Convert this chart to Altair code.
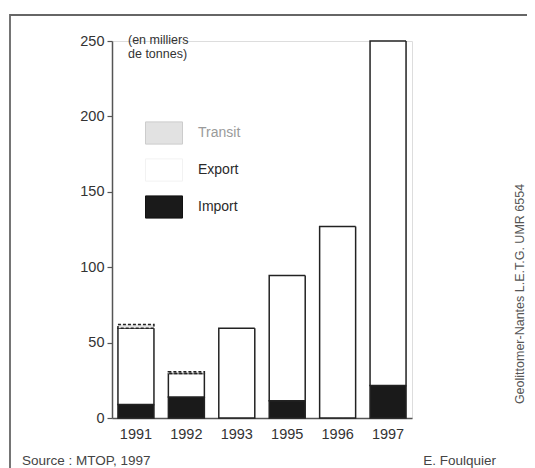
import altair as alt
import pandas as pd

years = ["1991", "1992", "1993", "1995", "1996", "1997"]
import_vals = [9, 14, 0, 11.5, 0, 21.5]
export_vals = [50.5, 15.5, 59.5, 83, 127, 228.5]
transit_vals = [2.5, 1.2, 0, 0, 0, 0]
series = ["Import", "Export", "Transit"]
y_ticks = [0, 50, 100, 150, 200, 250]
legend_labels = ["Transit", "Export", "Import"]
unit_label = ["(en milliers", "de tonnes)"]
source_text = "Source : MTOP, 1997"
author_text = "E. Foulquier"
credit_text = "Geolittomer-Nantes L.E.T.G. UMR 6554"

FONT = "Liberation Sans"

rows = []
for i, yr in enumerate(years):
    for k, (s, vals) in enumerate(zip(series, [import_vals, export_vals, transit_vals])):
        rows.append({"year": yr, "series": s, "value": vals[i], "order": k})
df = pd.DataFrame(rows)

fill_scale = alt.Scale(domain=series, range=["#1a1a1a", "#ffffff", "#e4e4e4"])

bars = (
    alt.Chart(df)
    .transform_stack(stack="value", as_=["y0", "y1"], groupby=["year"],
                     sort=[alt.SortField("order")])
    .transform_filter("datum.value > 0")
    .mark_bar(stroke="#222222", strokeWidth=1.5)
    .encode(
        x=alt.X("year:N", sort=years,
                scale=alt.Scale(paddingInner=0.286, paddingOuter=0.118),
                axis=alt.Axis(title=None, labelAngle=0, ticks=False, labelPadding=9,
                              labelFontSize=14.5, labelFont=FONT, labelColor="#333333",
                              domainColor="#555555", domainWidth=1.5)),
        y=alt.Y("y0:Q", scale=alt.Scale(domain=[0, 250], nice=False),
                axis=alt.Axis(values=y_ticks, title=None, grid=False, tickSize=5,
                              tickColor="#555555", tickWidth=1.2, labelPadding=3,
                              labelFontSize=14.5, labelFont=FONT, labelColor="#333333",
                              domainColor="#555555", domainWidth=1.5)),
        y2="y1:Q",
        fill=alt.Fill("series:N", scale=fill_scale, legend=None),
        strokeDash=alt.condition(alt.datum.series == "Transit", alt.value([3, 2]), alt.value([1, 0])),
    )
)

leg_df = pd.DataFrame({"label": legend_labels})
leg_y = alt.Y("label:N", sort=legend_labels,
              scale=alt.Scale(type="point", domain=legend_labels, range=[92, 166], padding=0),
              axis=None)
leg_sw = alt.Chart(leg_df).mark_point(
    shape="M-1,-0.6H1V0.6H-1Z", size=1369, filled=True, opacity=1, strokeWidth=1
).encode(
    x=alt.value(52),
    y=leg_y,
    fill=alt.Fill("label:N", scale=alt.Scale(domain=legend_labels,
                                              range=["#e2e2e2", "#ffffff", "#1a1a1a"]), legend=None),
    stroke=alt.Stroke("label:N", scale=alt.Scale(domain=legend_labels,
                                                  range=["#cccccc", "#f2f2f2", "#111111"]), legend=None),
)
leg_tx = alt.Chart(leg_df).mark_text(align="left", baseline="middle", fontSize=14, font=FONT).encode(
    x=alt.value(86),
    y=leg_y,
    text="label:N",
    color=alt.condition(alt.datum.label == "Transit", alt.value("#9a9a9a"), alt.value("#2a2a2a")),
)
legend = alt.layer(leg_sw, leg_tx)

one = pd.DataFrame({"a": [0]})
unit = alt.Chart(one).mark_text(text=unit_label, align="left", baseline="top", fontSize=12.5,
                                lineHeight=14, font=FONT, color="#333333").encode(
    x=alt.value(16), y=alt.value(-7))
src = alt.Chart(one).mark_text(text=source_text, align="left", baseline="middle", fontSize=13.5,
                               font=FONT, color="#444444").encode(
    x=alt.value(-90), y=alt.value(420))
auth = alt.Chart(one).mark_text(text=author_text, align="right", baseline="middle", fontSize=13.5,
                                font=FONT, color="#444444").encode(
    x=alt.value(384), y=alt.value(420))
credit = alt.Chart(one).mark_text(text=credit_text, align="center", baseline="middle", fontSize=12.5,
                                  angle=270, font=FONT, color="#555555").encode(
    x=alt.value(408), y=alt.value(253))
frame = alt.Chart(one).mark_rect(fill=None, stroke="#666666", strokeWidth=1.8).encode(
    x=alt.value(-102), x2=alt.value(440), y=alt.value(-26), y2=alt.value(440))

chart = (
    alt.layer(frame, bars, legend, unit, src, auth, credit)
    .resolve_scale(y="independent", x="independent", fill="independent", stroke="independent")
    .properties(width=300, height=377, autosize=alt.AutoSizeParams(type="none"),
                padding={"left": 104, "top": 33, "right": 115, "bottom": 50})
    .configure_view(stroke=None)
    .configure(background="white")
)

chart.save("out.html", embed_options={"renderer": "svg", "actions": False})
